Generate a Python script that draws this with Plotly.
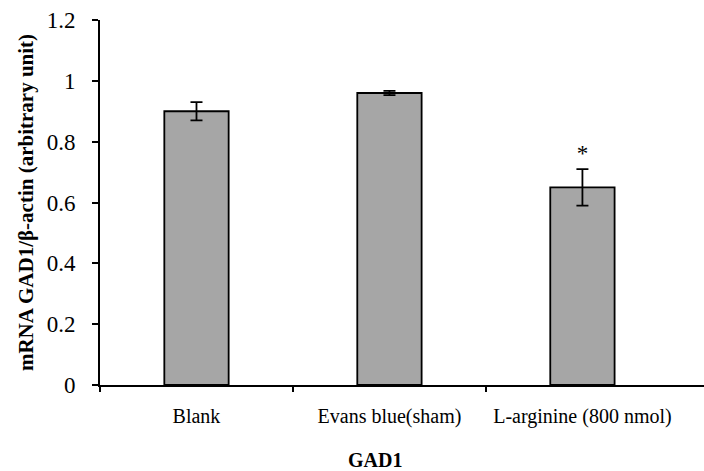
import plotly.graph_objects as go

categories = ["Blank", "Evans blue(sham)", "L-arginine (800 nmol)"]
values = [0.90, 0.96, 0.65]
errors = [0.03, 0.007, 0.06]
markers = ["", "", "*"]
y_ticks = [0, 0.2, 0.4, 0.6, 0.8, 1, 1.2]
y_ticktext = ["0", "0.2", "0.4", "0.6", "0.8", "1", "1.2"]

FONT = "Liberation Serif, Times New Roman, serif"

fig = go.Figure()
fig.add_trace(go.Bar(
    x=categories, y=values,
    marker=dict(color="#a6a6a6", line=dict(color="black", width=1.8)),
    error_y=dict(type="data", array=errors, color="black", thickness=1.8, width=6),
    showlegend=False, hoverinfo="skip",
))
# asterisk marks above error bars
fig.add_trace(go.Scatter(
    x=[c for c, m in zip(categories, markers) if m],
    y=[v + e + 0.045 for v, e, m in zip(values, errors, markers) if m],
    mode="text", text=[m for m in markers if m],
    textfont=dict(family=FONT, size=23, color="black"),
    showlegend=False, hoverinfo="skip",
))
# invisible trace for boundary tick axis
fig.add_trace(go.Scatter(x=[0.5], y=[0], xaxis="x2", mode="markers",
                         marker=dict(opacity=0), showlegend=False, hoverinfo="skip"))

xr = [-0.5, 2.63]
fig.update_layout(
    width=704, height=471,
    margin=dict(l=100, r=0, t=20, b=86, autoexpand=False),
    plot_bgcolor="white", paper_bgcolor="white",
    bargap=2/3,
    font=dict(family=FONT, size=20, color="black"),
    xaxis=dict(
        type="category", range=xr, showline=True, linecolor="black", linewidth=1.8,
        ticks="", showgrid=False, tickfont=dict(size=20), ticklabelstandoff=12,
        automargin=False,
    ),
    xaxis2=dict(
        overlaying="x", anchor="y", range=xr, showline=False,
        tickvals=[-0.5, 0.5, 1.5], ticks="outside", ticklen=6, tickwidth=1.8,
        tickcolor="black", showticklabels=False, showgrid=False, zeroline=False,
        side="bottom", automargin=False,
    ),
    yaxis=dict(
        range=[0, 1.2], tickvals=y_ticks, ticktext=y_ticktext,
        showline=True, linecolor="black", linewidth=1.8,
        ticks="outside", ticklen=6, tickwidth=1.8, tickcolor="black",
        showgrid=False, zeroline=False, tickfont=dict(size=23), ticklabelstandoff=12,
        automargin=False,
        title=dict(text="<b>mRNA GAD1/β-actin (arbitrary unit)</b>", font=dict(size=21), standoff=7),
    ),
    annotations=[dict(text="<b>GAD1</b>", xref="paper", yref="paper", x=0.455, y=-0.205,
                      xanchor="center", yanchor="middle", showarrow=False, font=dict(size=20))],
)
fig.write_html("out.html", config={"displayModeBar": False},
               post_script="document.body.style.margin='0';document.body.style.overflow='hidden';")
